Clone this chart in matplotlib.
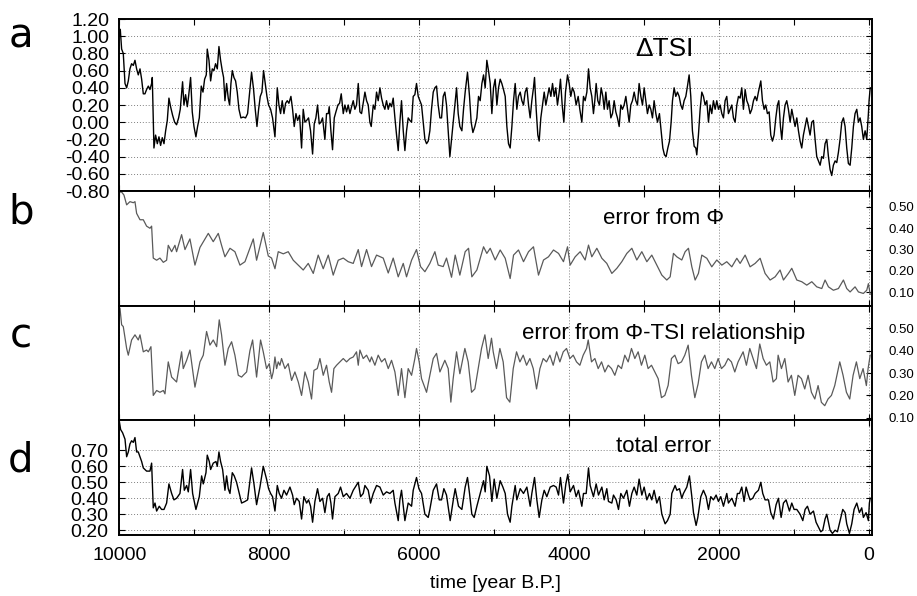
import matplotlib
matplotlib.use("Agg")
import matplotlib.pyplot as plt
from matplotlib.ticker import MultipleLocator, FixedLocator

plt.rcParams['font.family'] = ['Liberation Sans', 'DejaVu Sans']

# ---------------------------------------------------------
# data (years B.P., values)
# ---------------------------------------------------------
tsi_year = [
    10000, 9987, 9969, 9947, 9924, 9902, 9880, 9858, 9836, 9813,
    9791, 9769, 9747, 9724, 9702, 9680, 9658, 9636, 9613, 9591,
    9569, 9560, 9538, 9516, 9493, 9471, 9449, 9427, 9404, 9382,
    9360, 9338, 9316, 9289, 9262, 9236, 9209, 9187, 9156, 9138,
    9116, 9093, 9076, 9049, 9027, 9004, 8978, 8956, 8933, 8907,
    8884, 8862, 8840, 8827, 8804, 8782, 8760, 8738, 8716, 8693,
    8671, 8649, 8627, 8609, 8591, 8569, 8547, 8529, 8511, 8493,
    8471, 8449, 8427, 8404, 8378, 8347, 8316, 8289, 8262, 8236,
    8209, 8187, 8164, 8142, 8120, 8098, 8076, 8053, 8031, 8009,
    7982, 7956, 7924, 7893, 7871, 7849, 7827, 7804, 7782, 7760,
    7738, 7711, 7689, 7667, 7644, 7622, 7596, 7569, 7547, 7524,
    7502, 7476, 7449, 7422, 7400, 7378, 7356, 7333, 7311, 7289,
    7258, 7236, 7213, 7200, 7178, 7156, 7133, 7111, 7084, 7062,
    7040, 7013, 6991, 6969, 6947, 6924, 6902, 6880, 6858, 6836,
    6813, 6791, 6769, 6747, 6724, 6702, 6680, 6658, 6640, 6613,
    6591, 6569, 6547, 6524, 6502, 6480, 6458, 6436, 6413, 6391,
    6369, 6347, 6324, 6302, 6280, 6258, 6236, 6213, 6191, 6169,
    6147, 6124, 6102, 6080, 6058, 6036, 6013, 5991, 5969, 5947,
    5924, 5902, 5880, 5858, 5836, 5813, 5791, 5769, 5747, 5724,
    5702, 5680, 5658, 5636, 5613, 5591, 5569, 5547, 5524, 5502,
    5480, 5458, 5431, 5409, 5387, 5356, 5329, 5307, 5284, 5258,
    5231, 5209, 5187, 5164, 5142, 5120, 5098, 5076, 5053, 5031,
    5009, 4987, 4964, 4942, 4920, 4898, 4876, 4853, 4831, 4809,
    4787, 4764, 4742, 4720, 4698, 4676, 4653, 4631, 4609, 4587,
    4564, 4542, 4520, 4498, 4476, 4462, 4440, 4418, 4400, 4378,
    4356, 4333, 4311, 4289, 4267, 4244, 4222, 4200, 4178, 4156,
    4133, 4116, 4093, 4071, 4049, 4022, 4000, 3978, 3956, 3933,
    3907, 3880, 3858, 3831, 3809, 3787, 3764, 3742, 3720, 3698,
    3676, 3658, 3640, 3618, 3596, 3573, 3551, 3533, 3511, 3489,
    3467, 3444, 3422, 3400, 3378, 3356, 3333, 3311, 3289, 3267,
    3244, 3222, 3200, 3178, 3156, 3133, 3111, 3089, 3067, 3044,
    3022, 3000, 2978, 2956, 2933, 2911, 2889, 2867, 2844, 2822,
    2796, 2773, 2751, 2729, 2707, 2684, 2662, 2640, 2622, 2600,
    2578, 2556, 2533, 2511, 2489, 2467, 2444, 2422, 2400, 2378,
    2356, 2333, 2311, 2298, 2276, 2253, 2231, 2209, 2187, 2164,
    2142, 2120, 2098, 2076, 2053, 2031, 2009, 1987, 1964, 1942,
    1920, 1898, 1876, 1853, 1831, 1809, 1787, 1764, 1742, 1720,
    1698, 1676, 1653, 1631, 1609, 1587, 1564, 1542, 1520, 1498,
    1476, 1444, 1422, 1400, 1378, 1356, 1333, 1311, 1289, 1267,
    1244, 1222, 1204, 1182, 1164, 1142, 1120, 1098, 1076, 1053,
    1031, 1009, 987, 964, 942, 920, 898, 876, 853, 831,
    809, 787, 764, 742, 720, 698, 676, 653, 631, 609,
    587, 564, 542, 520, 498, 476, 453, 431, 409, 387,
    364, 342, 320, 298, 276, 253, 231, 209, 187, 164,
    142, 120, 98, 76, 53, 31, 9, 0, -15,
]
tsi = [
    1.00, 1.08, 0.85, 0.80, 0.45, 0.40, 0.48, 0.62, 0.68, 0.66,
    0.72, 0.62, 0.55, 0.62, 0.50, 0.33, 0.33, 0.38, 0.42, 0.38,
    0.45, 0.52, -0.30, -0.15, -0.25, -0.17, -0.27, -0.18, -0.25, -0.10,
    0.02, 0.28, 0.18, 0.08, 0.00, -0.03, 0.05, 0.15, 0.47, 0.20,
    0.32, 0.18, 0.30, 0.52, 0.12, -0.05, -0.17, -0.05, 0.05, 0.42,
    0.35, 0.50, 0.55, 0.85, 0.72, 0.48, 0.62, 0.60, 0.68, 0.62,
    0.88, 0.72, 0.60, 0.52, 0.25, 0.45, 0.28, 0.20, 0.45, 0.60,
    0.52, 0.48, 0.35, 0.15, 0.05, 0.06, 0.05, 0.10, 0.35, 0.58,
    0.38, 0.15, -0.05, 0.15, 0.30, 0.35, 0.60, 0.45, 0.30, 0.20,
    0.15, 0.05, -0.17, 0.40, 0.20, 0.10, 0.25, 0.10, 0.22, 0.25,
    0.22, 0.30, 0.15, -0.05, 0.10, 0.02, 0.08, -0.30, 0.15, 0.00,
    0.02, 0.05, -0.10, -0.37, -0.02, 0.05, 0.20, -0.02, 0.00, 0.05,
    -0.20, 0.10, 0.10, 0.18, -0.10, -0.32, 0.05, 0.12, 0.20, 0.22,
    0.33, 0.10, 0.20, 0.12, 0.20, 0.10, 0.18, 0.25, 0.15, 0.20,
    0.45, 0.12, 0.10, 0.22, 0.35, 0.25, 0.20, 0.00, -0.05, 0.20,
    0.15, 0.35, 0.25, 0.40, 0.28, 0.20, 0.15, 0.25, 0.15, 0.22,
    0.18, 0.28, 0.05, -0.15, -0.33, 0.00, 0.25, -0.10, -0.33, -0.10,
    0.05, 0.02, 0.00, 0.30, 0.32, 0.45, 0.30, 0.25, 0.20, 0.00,
    -0.20, -0.25, -0.22, -0.10, 0.15, 0.35, 0.40, 0.42, 0.20, 0.05,
    0.05, 0.30, 0.35, 0.20, -0.10, -0.40, -0.20, 0.00, 0.20, 0.40,
    0.10, -0.05, -0.10, 0.15, 0.35, 0.58, 0.30, 0.00, -0.12, -0.05,
    0.05, 0.30, 0.25, 0.45, 0.55, 0.40, 0.72, 0.60, 0.45, 0.10,
    0.40, 0.50, 0.20, 0.40, 0.50, 0.45, 0.38, 0.30, -0.05, -0.25,
    -0.30, -0.05, 0.25, 0.45, 0.15, 0.30, 0.35, 0.25, 0.20, 0.35,
    0.40, 0.20, 0.05, 0.25, 0.40, 0.52, 0.15, -0.15, -0.22, 0.05,
    0.20, 0.35, 0.20, 0.30, 0.40, 0.30, 0.45, 0.30, 0.40, 0.20,
    0.35, 0.50, 0.20, 0.00, 0.35, 0.55, 0.45, 0.30, 0.40, 0.35,
    0.20, 0.30, 0.15, 0.00, 0.30, 0.25, 0.35, 0.62, 0.40, 0.30,
    0.10, 0.25, 0.45, 0.25, 0.20, 0.40, 0.30, 0.15, 0.35, 0.15,
    0.25, 0.05, 0.10, 0.25, 0.12, 0.05, -0.05, 0.20, 0.15, 0.20,
    0.30, 0.15, 0.00, 0.20, 0.25, 0.35, 0.25, 0.20, 0.45, 0.30,
    0.20, 0.40, 0.25, 0.10, 0.20, 0.15, 0.05, 0.25, 0.10, 0.00,
    0.10, -0.10, -0.30, -0.38, -0.40, -0.30, -0.22, 0.00, 0.25, 0.40,
    0.30, 0.35, 0.30, 0.20, 0.15, 0.25, 0.30, 0.42, 0.55, 0.30,
    -0.10, -0.28, -0.30, -0.38, -0.15, 0.15, 0.35, 0.30, 0.20, 0.25,
    0.00, 0.20, 0.10, 0.25, 0.15, 0.25, 0.15, 0.20, 0.10, 0.05,
    0.25, 0.30, 0.10, 0.15, 0.20, 0.05, 0.00, 0.20, 0.30, 0.28,
    0.40, 0.15, 0.38, 0.25, 0.20, 0.10, 0.15, 0.25, 0.30, 0.25,
    0.35, 0.48, 0.25, 0.15, 0.20, 0.10, 0.12, -0.15, -0.22, -0.15,
    0.05, 0.20, 0.25, -0.05, -0.20, 0.05, 0.20, 0.25, 0.15, 0.00,
    0.15, 0.05, -0.05, 0.05, -0.10, -0.22, -0.30, -0.15, -0.05, 0.05,
    -0.05, -0.15, 0.00, 0.02, -0.20, -0.40, -0.45, -0.50, -0.40, -0.42,
    -0.25, -0.20, -0.40, -0.55, -0.62, -0.50, -0.45, -0.47, -0.35, -0.20,
    0.00, 0.05, -0.05, -0.30, -0.48, -0.50, -0.30, -0.05, 0.10, 0.15,
    0.00, 0.05, -0.05, -0.20, -0.10, -0.20, 0.10, 0.25, 0.40,
]

phi_year = [
    10000, 9969, 9938, 9902, 9858, 9813, 9791, 9769, 9724, 9680,
    9636, 9591, 9569, 9547, 9502, 9458, 9413, 9369, 9347, 9302,
    9258, 9236, 9169, 9124, 9058, 8991, 8924, 8813, 8747, 8680,
    8636, 8591, 8524, 8458, 8391, 8324, 8213, 8169, 8080, 8013,
    7969, 7924, 7880, 7813, 7747, 7680, 7613, 7547, 7480, 7413,
    7347, 7280, 7213, 7147, 7080, 7013, 6947, 6880, 6813, 6769,
    6702, 6636, 6569, 6480, 6413, 6347, 6280, 6213, 6169, 6102,
    6036, 5982, 5924, 5858, 5791, 5747, 5680, 5636, 5569, 5520,
    5458, 5387, 5342, 5298, 5231, 5142, 5098, 5053, 4987, 4920,
    4853, 4787, 4742, 4676, 4609, 4542, 4476, 4409, 4342, 4276,
    4209, 4142, 4076, 4022, 3987, 3920, 3853, 3787, 3742, 3698,
    3631, 3564, 3498, 3431, 3364, 3298, 3231, 3164, 3098, 3031,
    2964, 2898, 2831, 2764, 2698, 2653, 2609, 2564, 2498, 2453,
    2409, 2364, 2320, 2276, 2231, 2164, 2098, 2031, 1964, 1898,
    1831, 1764, 1720, 1653, 1587, 1520, 1453, 1387, 1320, 1253,
    1187, 1142, 1076, 1031, 964, 898, 831, 764, 698, 631,
    587, 542, 476, 409, 342, 298, 253, 187, 142, 76,
    31, 9, -15,
]
err_phi = [
    0.57, 0.57, 0.556, 0.51, 0.525, 0.52, 0.525, 0.47, 0.44, 0.44,
    0.41, 0.40, 0.41, 0.26, 0.25, 0.26, 0.24, 0.25, 0.32, 0.29,
    0.32, 0.29, 0.37, 0.30, 0.35, 0.227, 0.31, 0.376, 0.337, 0.376,
    0.32, 0.266, 0.306, 0.29, 0.227, 0.243, 0.35, 0.25, 0.38, 0.27,
    0.26, 0.21, 0.29, 0.28, 0.29, 0.25, 0.227, 0.204, 0.235, 0.188,
    0.274, 0.21, 0.274, 0.18, 0.25, 0.26, 0.243, 0.235, 0.30, 0.22,
    0.30, 0.22, 0.274, 0.26, 0.19, 0.26, 0.172, 0.235, 0.172, 0.25,
    0.30, 0.22, 0.196, 0.235, 0.29, 0.227, 0.22, 0.26, 0.17, 0.274,
    0.18, 0.29, 0.306, 0.172, 0.204, 0.313, 0.282, 0.306, 0.251, 0.298,
    0.259, 0.164, 0.274, 0.298, 0.243, 0.29, 0.313, 0.18, 0.251, 0.266,
    0.298, 0.282, 0.243, 0.313, 0.227, 0.266, 0.29, 0.251, 0.321, 0.266,
    0.306, 0.259, 0.235, 0.188, 0.212, 0.243, 0.282, 0.306, 0.251, 0.29,
    0.243, 0.274, 0.227, 0.18, 0.157, 0.172, 0.282, 0.266, 0.251, 0.29,
    0.306, 0.219, 0.157, 0.188, 0.274, 0.259, 0.219, 0.251, 0.227, 0.243,
    0.219, 0.259, 0.235, 0.274, 0.219, 0.235, 0.259, 0.188, 0.157, 0.172,
    0.204, 0.157, 0.188, 0.212, 0.157, 0.149, 0.133, 0.149, 0.125, 0.117,
    0.157, 0.125, 0.109, 0.117, 0.157, 0.117, 0.101, 0.125, 0.101, 0.094,
    0.109, 0.14, 0.09,
]

rel_year = [
    10000, 9991, 9969, 9947, 9902, 9880, 9836, 9791, 9747, 9724,
    9680, 9636, 9613, 9578, 9547, 9502, 9458, 9413, 9391, 9347,
    9302, 9236, 9169, 9147, 9102, 9058, 8991, 8924, 8880, 8836,
    8791, 8747, 8702, 8667, 8636, 8591, 8547, 8502, 8458, 8413,
    8369, 8347, 8302, 8258, 8222, 8191, 8169, 8147, 8116, 8080,
    8036, 8000, 7969, 7947, 7924, 7902, 7880, 7858, 7836, 7791,
    7747, 7702, 7658, 7613, 7569, 7524, 7480, 7436, 7404, 7360,
    7324, 7280, 7236, 7200, 7169, 7138, 7102, 7058, 7013, 6969,
    6924, 6880, 6836, 6813, 6791, 6747, 6702, 6658, 6636, 6591,
    6547, 6502, 6458, 6413, 6369, 6324, 6280, 6236, 6191, 6147,
    6102, 6058, 6036, 6000, 5969, 5902, 5858, 5813, 5769, 5724,
    5658, 5613, 5578, 5547, 5502, 5458, 5391, 5347, 5302, 5258,
    5213, 5169, 5124, 5080, 5036, 5013, 4969, 4924, 4880, 4835,
    4791, 4746, 4702, 4657, 4613, 4568, 4524, 4479, 4435, 4390,
    4346, 4302, 4257, 4213, 4168, 4124, 4079, 4035, 3990, 3946,
    3902, 3857, 3813, 3768, 3746, 3702, 3657, 3613, 3568, 3524,
    3479, 3435, 3391, 3347, 3302, 3258, 3213, 3169, 3124, 3080,
    3036, 2991, 2947, 2902, 2858, 2813, 2769, 2724, 2680, 2636,
    2591, 2547, 2502, 2458, 2413, 2369, 2324, 2280, 2236, 2191,
    2147, 2102, 2058, 2013, 1969, 1924, 1880, 1836, 1791, 1747,
    1702, 1680, 1636, 1591, 1547, 1502, 1458, 1413, 1369, 1324,
    1280, 1236, 1213, 1169, 1124, 1080, 1036, 991, 947, 902,
    858, 813, 769, 724, 680, 636, 591, 547, 502, 458,
    391, 347, 302, 258, 213, 169, 124, 80, 36, 13,
    -15,
]
err_rel = [
    0.59, 0.59, 0.516, 0.508, 0.41, 0.38, 0.448, 0.471, 0.448, 0.471,
    0.395, 0.403, 0.395, 0.418, 0.20, 0.222, 0.214, 0.222, 0.207, 0.35,
    0.282, 0.26, 0.395, 0.32, 0.357, 0.403, 0.237, 0.35, 0.38, 0.486,
    0.425, 0.448, 0.418, 0.538, 0.471, 0.335, 0.41, 0.44, 0.38, 0.29,
    0.282, 0.29, 0.305, 0.40, 0.448, 0.35, 0.282, 0.35, 0.448, 0.395,
    0.32, 0.342, 0.275, 0.305, 0.372, 0.32, 0.35, 0.335, 0.365, 0.32,
    0.342, 0.267, 0.305, 0.26, 0.20, 0.305, 0.26, 0.184, 0.312, 0.32,
    0.365, 0.29, 0.335, 0.26, 0.214, 0.32, 0.335, 0.35, 0.365, 0.35,
    0.365, 0.372, 0.395, 0.335, 0.403, 0.365, 0.38, 0.35, 0.372, 0.335,
    0.38, 0.35, 0.365, 0.32, 0.357, 0.305, 0.20, 0.32, 0.19, 0.32,
    0.29, 0.365, 0.41, 0.35, 0.275, 0.214, 0.29, 0.365, 0.388, 0.305,
    0.357, 0.32, 0.17, 0.275, 0.395, 0.297, 0.41, 0.35, 0.214, 0.229,
    0.32, 0.41, 0.471, 0.365, 0.456, 0.395, 0.32, 0.41, 0.35, 0.19,
    0.17, 0.32, 0.395, 0.35, 0.38, 0.335, 0.365, 0.32, 0.229, 0.32,
    0.365, 0.35, 0.38, 0.335, 0.395, 0.35, 0.395, 0.41, 0.365, 0.38,
    0.35, 0.335, 0.38, 0.41, 0.448, 0.35, 0.365, 0.32, 0.35, 0.305,
    0.335, 0.32, 0.29, 0.335, 0.32, 0.38, 0.35, 0.41, 0.365, 0.395,
    0.335, 0.38, 0.32, 0.335, 0.305, 0.275, 0.19, 0.20, 0.245, 0.365,
    0.38, 0.342, 0.35, 0.38, 0.425, 0.29, 0.19, 0.252, 0.35, 0.38,
    0.32, 0.35, 0.32, 0.365, 0.32, 0.335, 0.365, 0.35, 0.305, 0.35,
    0.38, 0.395, 0.335, 0.41, 0.365, 0.32, 0.43, 0.365, 0.335, 0.35,
    0.26, 0.275, 0.38, 0.32, 0.365, 0.26, 0.29, 0.20, 0.29, 0.275,
    0.229, 0.29, 0.214, 0.184, 0.244, 0.169, 0.154, 0.184, 0.20, 0.244,
    0.35, 0.29, 0.214, 0.184, 0.29, 0.35, 0.275, 0.32, 0.244, 0.32,
    0.38,
]

tot_year = [
    10000, 9982, 9956, 9924, 9902, 9880, 9858, 9836, 9813, 9791,
    9769, 9747, 9724, 9702, 9680, 9636, 9591, 9569, 9547, 9524,
    9502, 9467, 9436, 9404, 9369, 9338, 9302, 9271, 9236, 9191,
    9156, 9133, 9102, 9080, 9049, 9022, 8978, 8933, 8902, 8880,
    8844, 8827, 8800, 8782, 8747, 8711, 8693, 8671, 8649, 8622,
    8591, 8569, 8547, 8524, 8493, 8467, 8436, 8400, 8369, 8324,
    8289, 8236, 8204, 8169, 8124, 8080, 8036, 8009, 7982, 7956,
    7924, 7893, 7867, 7836, 7804, 7769, 7724, 7689, 7667, 7636,
    7600, 7569, 7538, 7502, 7476, 7449, 7422, 7391, 7356, 7324,
    7289, 7258, 7227, 7200, 7178, 7156, 7124, 7080, 7049, 7013,
    6969, 6924, 6880, 6813, 6782, 6747, 6724, 6680, 6649, 6613,
    6569, 6524, 6480, 6436, 6391, 6347, 6324, 6280, 6258, 6236,
    6191, 6147, 6102, 6080, 6036, 6004, 5969, 5924, 5880, 5858,
    5813, 5769, 5733, 5702, 5671, 5636, 5587, 5542, 5520, 5476,
    5431, 5387, 5356, 5329, 5298, 5267, 5231, 5187, 5142, 5120,
    5098, 5062, 5031, 5000, 4964, 4920, 4884, 4853, 4822, 4787,
    4764, 4720, 4698, 4653, 4609, 4564, 4520, 4498, 4462, 4431,
    4400, 4364, 4333, 4298, 4253, 4209, 4173, 4142, 4116, 4076,
    4044, 4018, 3987, 3942, 3907, 3876, 3831, 3809, 3773, 3742,
    3720, 3676, 3640, 3609, 3564, 3533, 3498, 3476, 3431, 3409,
    3373, 3342, 3311, 3276, 3231, 3196, 3164, 3133, 3098, 3067,
    3031, 3000, 2964, 2929, 2898, 2867, 2831, 2796, 2764, 2720,
    2689, 2653, 2631, 2587, 2564, 2529, 2498, 2476, 2431, 2396,
    2364, 2342, 2307, 2284, 2244, 2209, 2173, 2142, 2111, 2076,
    2040, 2009, 1978, 1942, 1898, 1876, 1831, 1787, 1756, 1729,
    1698, 1667, 1640, 1609, 1587, 1551, 1520, 1476, 1444, 1418,
    1387, 1342, 1311, 1276, 1240, 1209, 1173, 1142, 1107, 1062,
    1031, 1000, 964, 920, 884, 853, 822, 787, 742, 707,
    676, 644, 618, 587, 564, 520, 489, 453, 422, 387,
    351, 320, 298, 262, 231, 200, 164, 129, 98, 76,
    40, 9, -4, -15,
]
err_tot = [
    0.88, 0.83, 0.81, 0.77, 0.66, 0.69, 0.74, 0.76, 0.75, 0.78,
    0.69, 0.69, 0.66, 0.63, 0.59, 0.57, 0.57, 0.62, 0.34, 0.37,
    0.32, 0.35, 0.33, 0.33, 0.37, 0.49, 0.43, 0.39, 0.40, 0.43,
    0.58, 0.45, 0.48, 0.44, 0.58, 0.43, 0.33, 0.41, 0.54, 0.49,
    0.56, 0.67, 0.63, 0.58, 0.62, 0.63, 0.60, 0.69, 0.63, 0.58,
    0.45, 0.54, 0.46, 0.43, 0.56, 0.54, 0.50, 0.43, 0.37, 0.38,
    0.39, 0.59, 0.49, 0.36, 0.47, 0.60, 0.52, 0.46, 0.43, 0.41,
    0.32, 0.48, 0.43, 0.40, 0.45, 0.42, 0.47, 0.42, 0.36, 0.40,
    0.38, 0.27, 0.41, 0.37, 0.39, 0.35, 0.25, 0.38, 0.46, 0.38,
    0.40, 0.31, 0.41, 0.43, 0.37, 0.27, 0.41, 0.43, 0.47, 0.41,
    0.43, 0.40, 0.45, 0.50, 0.41, 0.43, 0.48, 0.45, 0.37, 0.43,
    0.48, 0.47, 0.42, 0.44, 0.43, 0.45, 0.37, 0.26, 0.39, 0.45,
    0.26, 0.37, 0.35, 0.45, 0.53, 0.46, 0.43, 0.30, 0.28, 0.33,
    0.45, 0.49, 0.39, 0.39, 0.46, 0.42, 0.26, 0.40, 0.46, 0.35,
    0.33, 0.47, 0.53, 0.43, 0.30, 0.28, 0.35, 0.43, 0.51, 0.44,
    0.60, 0.54, 0.38, 0.52, 0.40, 0.51, 0.47, 0.43, 0.30, 0.25,
    0.35, 0.48, 0.39, 0.46, 0.43, 0.47, 0.35, 0.43, 0.53, 0.39,
    0.28, 0.39, 0.45, 0.41, 0.47, 0.48, 0.47, 0.42, 0.53, 0.37,
    0.49, 0.55, 0.44, 0.48, 0.41, 0.45, 0.35, 0.43, 0.43, 0.59,
    0.48, 0.41, 0.49, 0.42, 0.47, 0.39, 0.46, 0.38, 0.37, 0.42,
    0.39, 0.33, 0.43, 0.40, 0.45, 0.35, 0.43, 0.47, 0.42, 0.52,
    0.42, 0.47, 0.39, 0.43, 0.39, 0.45, 0.37, 0.41, 0.30, 0.24,
    0.26, 0.30, 0.43, 0.48, 0.45, 0.46, 0.40, 0.43, 0.47, 0.54,
    0.41, 0.31, 0.23, 0.28, 0.41, 0.45, 0.41, 0.33, 0.41, 0.39,
    0.42, 0.38, 0.41, 0.35, 0.43, 0.37, 0.40, 0.35, 0.43, 0.43,
    0.47, 0.38, 0.47, 0.42, 0.39, 0.40, 0.43, 0.45, 0.50, 0.43,
    0.39, 0.39, 0.31, 0.27, 0.36, 0.40, 0.28, 0.37, 0.39, 0.32,
    0.37, 0.33, 0.33, 0.30, 0.26, 0.33, 0.35, 0.30, 0.32, 0.25,
    0.22, 0.19, 0.20, 0.27, 0.30, 0.20, 0.18, 0.20, 0.19, 0.26,
    0.33, 0.31, 0.24, 0.18, 0.24, 0.33, 0.37, 0.31, 0.34, 0.28,
    0.31, 0.26, 0.37, 0.40,
]

panel_letters = ["a", "b", "c", "d"]
panel_titles = ["\u0394TSI", "error from \u03a6",
                "error from \u03a6-TSI relationship", "total error"]
title_sizes = [19, 16, 16, 16]
x_ticks = [10000, 8000, 6000, 4000, 2000, 0]

# ---------------------------------------------------------
# layout (pixel boxes of the reference, 917 x 596)
# ---------------------------------------------------------
FW, FH = 917, 596
fig = plt.figure(figsize=(FW / 100, FH / 100), dpi=100)


def box(top, bottom, left=119.3, right=871.7):
    return [left / FW, 1 - bottom / FH, (right - left) / FW, (bottom - top) / FH]


ax_a = fig.add_axes(box(19, 191))
ax_b = fig.add_axes(box(191, 306), sharex=ax_a)
ax_c = fig.add_axes(box(306, 420), sharex=ax_a)
ax_d = fig.add_axes(box(420, 535), sharex=ax_a)
axes = [ax_a, ax_b, ax_c, ax_d]

ax_a.plot(tsi_year, tsi, color="black", lw=1.0)
ax_b.plot(phi_year, err_phi, color="#5a5a5a", lw=0.9)
ax_c.plot(rel_year, err_rel, color="#5a5a5a", lw=0.9)
ax_d.plot(tot_year, err_tot, color="black", lw=1.0)

ax_a.set_xlim(10000, -35)
ax_a.set_ylim(-0.8, 1.2)
ax_b.set_ylim(0.035, 0.575)
ax_c.set_ylim(0.09, 0.60)
ax_d.set_ylim(0.17, 0.89)

for ax in axes:
    ax.xaxis.set_major_locator(FixedLocator(x_ticks))
    ax.xaxis.set_minor_locator(MultipleLocator(1000))
    ax.tick_params(axis="x", which="both", direction="in", top=True,
                   bottom=True, length=4, width=0.8, labelbottom=False)
    ax.grid(True, axis="x", which="major", linestyle=(0, (1, 2)),
            color="#808080", lw=0.7)
    for s in ax.spines.values():
        s.set_linewidth(1.4)

# panel a: left labels, ticks both sides, horizontal grid
ax_a.yaxis.set_major_locator(MultipleLocator(0.2))
ax_a.tick_params(axis="y", direction="in", left=True, right=True,
                 length=4, labelsize=14, pad=7)
ax_a.yaxis.set_major_formatter(lambda v, p: f"{v:.2f}")
ax_a.grid(True, axis="y", linestyle=(0, (1, 2)), color="#808080", lw=0.7)

# panels b and c: labels on the right only
for ax in (ax_b, ax_c):
    ax.yaxis.set_major_locator(FixedLocator([0.1, 0.2, 0.3, 0.4, 0.5]))
    ax.yaxis.tick_right()
    ax.tick_params(axis="y", direction="in", left=False, right=True,
                   length=4, labelsize=9.5, pad=12)
    ax.yaxis.set_major_formatter(lambda v, p: f"{v:.2f}")

# panel d: left labels, grid, x labels
ax_d.yaxis.set_major_locator(FixedLocator([0.2, 0.3, 0.4, 0.5, 0.6, 0.7]))
ax_d.tick_params(axis="y", direction="in", left=True, right=True,
                 length=4, labelsize=14, pad=8)
ax_d.yaxis.set_major_formatter(lambda v, p: f"{v:.2f}")
ax_d.grid(True, axis="y", linestyle=(0, (1, 2)), color="#808080", lw=0.7)
ax_d.tick_params(axis="x", labelbottom=True, labelsize=14, pad=9)

fig.text(495.5 / FW, 1 - 583 / FH, "time [year B.P.]", ha="center",
         va="center", fontsize=14)

# panel titles inside the boxes
title_y = [49, 219, 333, 447]
for t, y, fs in zip(panel_titles, title_y, title_sizes):
    fig.text(664 / FW, 1 - y / FH, t, ha="center", va="center", fontsize=fs)

# panel letters
letter_base = [48, 223, 347, 471]
for lab, y in zip(panel_letters, letter_base):
    fig.text(21 / FW, 1 - y / FH, lab, ha="center", va="baseline",
             fontsize=29, family="DejaVu Sans")

fig.savefig("out.png", dpi=100)
